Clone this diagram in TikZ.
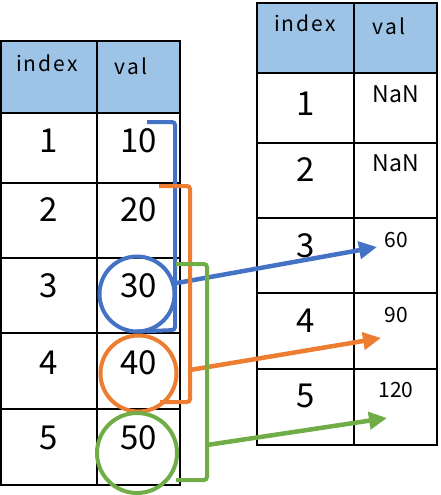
\documentclass[tikz,border=0pt]{standalone}
\usepackage{fontspec}
\setmainfont{Noto Sans CJK JP}
\newfontfamily\headfont[LetterSpace=10]{Noto Sans CJK JP}
\usetikzlibrary{arrows.meta}
\definecolor{headblue}{HTML}{9DC3E6}
\definecolor{selblue}{HTML}{4472C4}
\definecolor{selorange}{HTML}{ED7D31}
\definecolor{selgreen}{HTML}{70AD47}
\newcommand{\bignum}{\fontsize{33}{36}\selectfont}
\newcommand{\headtxt}{\headfont\fontsize{21}{24}\selectfont}
\newcommand{\valtxt}{\fontsize{21}{24}\selectfont}
\begin{document}
\begin{tikzpicture}[
    x=1pt, y=-1pt,
    cell/.style = {draw=black, line width=2pt, anchor=north west, inner sep=0pt, outer sep=0pt},
    headcell/.style = {cell, fill=headblue},
    ring/.style = {circle, line width=4pt, inner sep=0pt, outer sep=0pt},
    bracket/.style = {line width=4pt, rounded corners=3pt},
    line/.style = {-{Triangle[length=18pt,width=17pt]}, line width=4.5pt}
    ]
    \tikzstyle{num_style} = [inner sep=0pt, font=\bignum]
    \tikzstyle{head_style} = [inner sep=0pt, font=\headtxt]
    \tikzstyle{val_style} = [inner sep=0pt, font=\valtxt]
    \useasboundingbox (0,0) rectangle (440,495);

    % left table
    \node (LHi) [headcell, minimum width=96pt, minimum height=72pt] at (1,41) {};
    \node (LHv) [headcell, minimum width=83pt, minimum height=72pt] at (97,41) {};
    \node (L1i) [cell, minimum width=96pt, minimum height=70pt] at (1,113) {};
    \node (L1v) [cell, minimum width=83pt, minimum height=70pt] at (97,113) {};
    \node (L2i) [cell, minimum width=96pt, minimum height=75pt] at (1,183) {};
    \node (L2v) [cell, minimum width=83pt, minimum height=75pt] at (97,183) {};
    \node (L3i) [cell, minimum width=96pt, minimum height=75pt] at (1,258) {};
    \node (L3v) [cell, minimum width=83pt, minimum height=75pt] at (97,258) {};
    \node (L4i) [cell, minimum width=96pt, minimum height=76pt] at (1,333) {};
    \node (L4v) [cell, minimum width=83pt, minimum height=76pt] at (97,333) {};
    \node (L5i) [cell, minimum width=96pt, minimum height=76pt] at (1,409) {};
    \node (L5v) [cell, minimum width=83pt, minimum height=76pt] at (97,409) {};

    \node[head_style] (tLHi) at (47,63) {index};
    \node[head_style] (tLHv) at (131,66.5) {val};
    \node[num_style] (tL1i) at (49,140.5) {1};
    \node[num_style] (tL1v) at (138.5,140.5) {10};
    \node[num_style] (tL2i) at (49,210) {2};
    \node[num_style] (tL2v) at (138.5,210) {20};
    \node[num_style] (tL3i) at (49,285.5) {3};
    \node[num_style] (tL3v) at (138.5,285.5) {30};
    \node[num_style] (tL4i) at (49,362.5) {4};
    \node[num_style] (tL4v) at (138.5,362.5) {40};
    \node[num_style] (tL5i) at (49,437.5) {5};
    \node[num_style] (tL5v) at (138.5,437.5) {50};

    % right table
    \node (RHi) [headcell, minimum width=97pt, minimum height=70pt] at (257,3) {};
    \node (RHv) [headcell, minimum width=83pt, minimum height=70pt] at (354,3) {};
    \node (R1i) [cell, minimum width=97pt, minimum height=70pt] at (257,73) {};
    \node (R1v) [cell, minimum width=83pt, minimum height=70pt] at (354,73) {};
    \node (R2i) [cell, minimum width=97pt, minimum height=75pt] at (257,143) {};
    \node (R2v) [cell, minimum width=83pt, minimum height=75pt] at (354,143) {};
    \node (R3i) [cell, minimum width=97pt, minimum height=75pt] at (257,218) {};
    \node (R3v) [cell, minimum width=83pt, minimum height=75pt] at (354,218) {};
    \node (R4i) [cell, minimum width=97pt, minimum height=76pt] at (257,293) {};
    \node (R4v) [cell, minimum width=83pt, minimum height=76pt] at (354,293) {};
    \node (R5i) [cell, minimum width=97pt, minimum height=76pt] at (257,369) {};
    \node (R5v) [cell, minimum width=83pt, minimum height=76pt] at (354,369) {};

    \node[head_style] (tRHi) at (305,23.5) {index};
    \node[head_style] (tRHv) at (389,26.5) {val};
    \node[num_style] (tR1i) at (306,104) {1};
    \node[val_style, font=\fontsize{23}{26}\selectfont] (tR1v) at (396,94.5) {NaN};
    \node[num_style] (tR2i) at (306,170) {2};
    \node[val_style, font=\fontsize{23}{26}\selectfont] (tR2v) at (396,163.5) {NaN};
    \node[num_style] (tR3i) at (306,245.5) {3};
    \node[val_style] (tR3v) at (396,240.5) {60};
    \node[num_style] (tR4i) at (306,320.5) {4};
    \node[val_style] (tR4v) at (396,315.5) {90};
    \node[num_style] (tR5i) at (306,395.5) {5};
    \node[val_style] (tR5v) at (396,390.5) {120};

    % selected values
    \node (c30) [ring, draw=selblue, minimum size=75pt] at (137,294) {};
    \node (c40) [ring, draw=selorange, minimum size=76pt] at (138.5,373.5) {};
    \node (c50) [ring, draw=selgreen, minimum size=80pt] at (137,453) {};

    \coordinate (a30) at (177,283);
    \coordinate (a40) at (190,370);
    \coordinate (a50) at (207,445);
    \coordinate (t30) at (377,247);
    \coordinate (t40) at (381,338);
    \coordinate (t50) at (387,418);

    \draw[bracket, selblue] (147,122) -- (175,122) -- (175,330) -- (c30.south);
    \draw[line, selblue] (a30) -- (t30);
    \draw[bracket, selorange] (159,186) -- (190,186) -- (190,402) -- (160,402);
    \draw[line, selorange] (a40) -- (t40);
    \draw[bracket, selgreen] (176,264) -- (207,264) -- (207,480) -- (176,480);
    \draw[line, selgreen] (a50) -- (t50);
\end{tikzpicture}
\end{document}
